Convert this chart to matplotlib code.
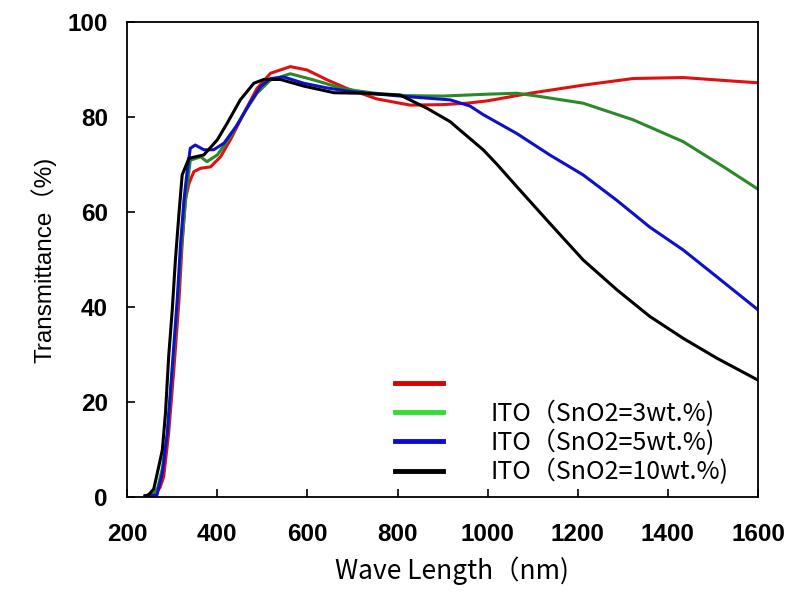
import matplotlib
matplotlib.use("Agg")
import matplotlib.pyplot as plt
from matplotlib.lines import Line2D

# ---- data ----
wl_red = [240, 255, 265, 273, 281, 292, 304, 315, 322, 329, 337, 348, 363, 385, 407, 429, 459, 488, 518,
          562, 599, 644, 688, 754, 828, 900, 954, 1000, 1094, 1212, 1323, 1434, 1538, 1600]
t_red = [0.3, 0.5, 1.0, 2.0, 4.3, 13.4, 27.4, 41.5, 53.4, 62.5, 66.0, 68.5, 69.2, 69.5, 71.6, 75.2, 80.8, 86.0, 89.2,
         90.6, 89.9, 87.8, 86.0, 83.8, 82.5, 82.6, 82.9, 83.4, 85.0, 86.7, 88.1, 88.3, 87.6, 87.2]

wl_green = [240, 258, 268, 278, 289, 300, 311, 320, 330, 340, 363, 377, 400, 429, 459, 488, 518, 562, 614,
            681, 750, 820, 900, 1000, 1065, 1110, 1212, 1323, 1434, 1527, 1600]
t_green = [0.2, 0.5, 2.0, 6.0, 13.0, 26.0, 40.0, 52.0, 63.0, 70.9, 71.6, 70.6, 72.0, 75.9, 80.8, 85.0, 87.8, 89.1, 87.8,
           85.9, 85.0, 84.5, 84.4, 84.8, 85.0, 84.4, 82.9, 79.4, 74.8, 69.3, 64.8]

wl_blue = [240, 255, 266, 278, 289, 300, 311, 318, 326, 333, 340, 351, 370, 392, 415, 444, 474, 496, 518,
           548, 592, 644, 700, 806, 917, 961, 990, 1065, 1138, 1212, 1286, 1360, 1434, 1508, 1600]
t_blue = [0.2, 0.3, 0.4, 5.0, 13.4, 27.4, 41.5, 52.7, 62.5, 68.5, 73.4, 74.1, 73.1, 73.1, 74.5, 78.3, 83.2, 86.4, 88.1,
          88.4, 87.1, 86.1, 85.3, 84.4, 83.6, 82.3, 80.5, 76.5, 72.0, 67.8, 62.5, 56.8, 52.0, 46.4, 39.4]

wl_black = [240, 248, 259, 270, 278, 285, 292, 300, 307, 315, 322, 337, 370, 400, 422, 451, 481, 503, 540,
            592, 659, 720, 806, 866, 917, 939, 990, 1021, 1065, 1138, 1212, 1287, 1360, 1434, 1509, 1600]
t_black = [0.2, 0.5, 1.7, 6.4, 9.9, 17.7, 29.5, 39.4, 49.9, 59.8, 67.8, 71.3, 72.0, 75.2, 78.7, 83.6, 87.1, 87.9, 87.9,
           86.5, 85.1, 85.0, 84.6, 81.8, 79.0, 77.2, 73.1, 70.0, 65.3, 57.6, 49.9, 43.6, 38.0, 33.4, 29.2, 24.6]

labels = ["", "ITO（SnO2=3wt.%)", "ITO（SnO2=5wt.%)", "ITO（SnO2=10wt.%)"]
x_ticks = [200, 400, 600, 800, 1000, 1200, 1400, 1600]
y_ticks = [0, 20, 40, 60, 80, 100]

# ---- figure ----
fig = plt.figure(figsize=(8.0, 6.14), dpi=100)
ax = fig.add_axes([0.159, 0.1906, 0.7885, 0.7736])

line_colors = ["#e01010", "#2a8a2a", "#1010c8", "#000000"]
legend_colors = ["#d80000", "#30dd30", "#0a0ad8", "#000000"]
series = [(wl_red, t_red), (wl_green, t_green), (wl_blue, t_blue), (wl_black, t_black)]
for (x, y), c in zip(series, line_colors):
    ax.plot(x, y, color=c, lw=2.2, solid_joinstyle="round")

ax.set_xlim(200, 1600)
ax.set_ylim(0, 100)
ax.set_xticks(x_ticks)
ax.set_yticks(y_ticks)

tick_font = {"family": ["Liberation Sans", "DejaVu Sans"], "weight": "bold", "size": 17.5}
ax.set_xticklabels([str(v) for v in x_ticks], fontdict=tick_font)
ax.set_yticklabels([str(v) for v in y_ticks], fontdict=tick_font)
ax.tick_params(axis="x", direction="in", length=6, width=1.2, pad=19)
ax.tick_params(axis="y", direction="in", length=6, width=1.2, pad=14)
for s in ax.spines.values():
    s.set_linewidth(1.3)

ax.set_xlabel("Wave Length（nm)", family=["Noto Sans CJK JP", "DejaVu Sans"], fontsize=19, labelpad=12)
ax.xaxis.set_label_coords(0.515, -0.125)
ax.set_ylabel("Transmittance（%)", family=["Liberation Sans", "Noto Sans CJK JP"], fontsize=17.5, labelpad=8)

handles = [Line2D([0], [0], color=c, lw=3.5) for c in legend_colors]
leg = ax.legend(handles, labels, loc="upper left", bbox_to_anchor=(0.424, 0.264),
                frameon=False, borderpad=0, borderaxespad=0, handlelength=1.95, handletextpad=1.9,
                labelspacing=0.12, prop={"family": ["Noto Sans CJK JP", "DejaVu Sans"], "size": 18})

fig.savefig("out.png", dpi=100)
